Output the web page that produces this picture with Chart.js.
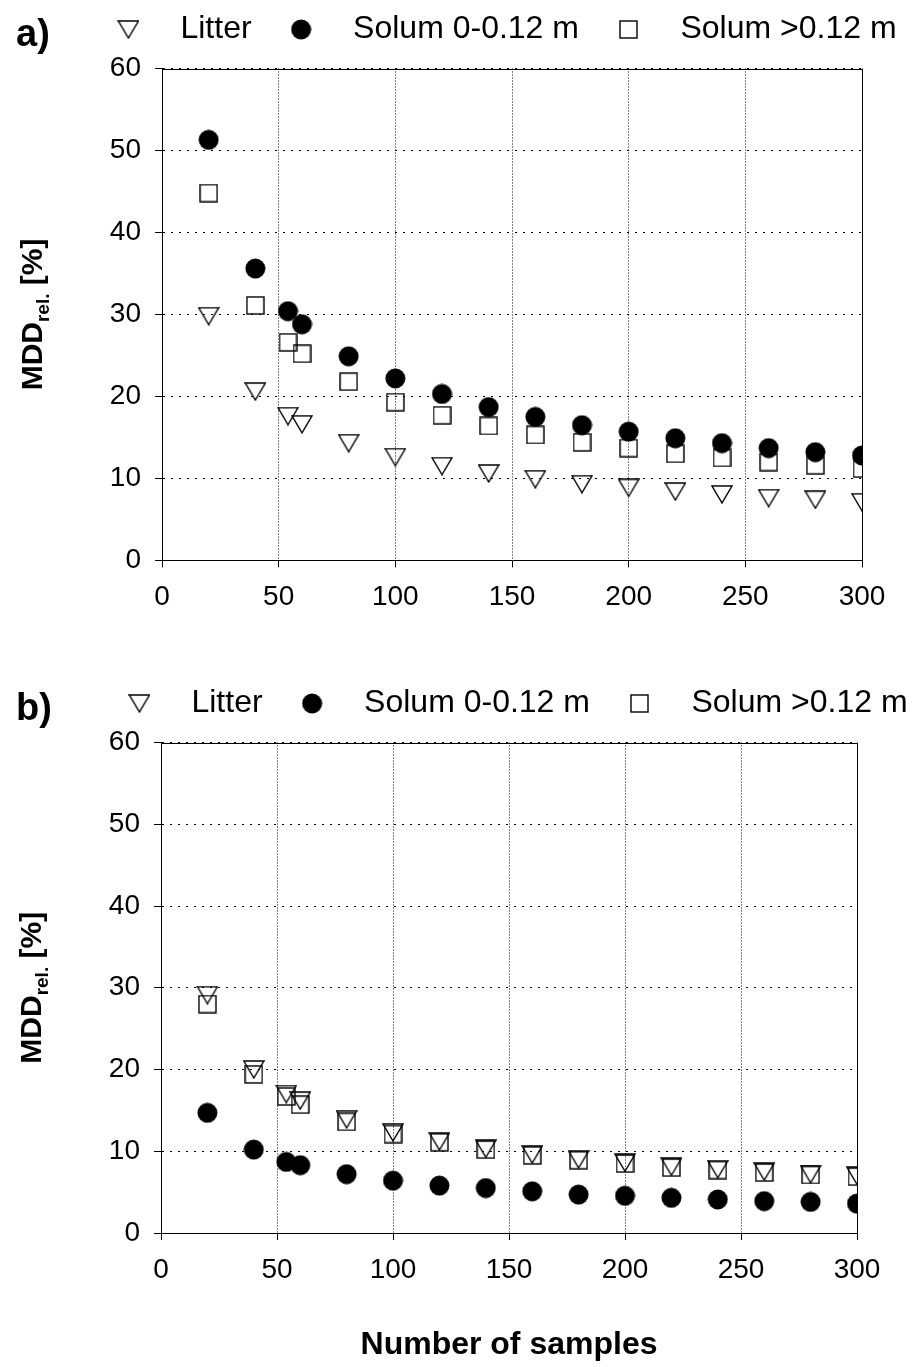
<!DOCTYPE html>
<html>
<head>
<meta charset="utf-8">
<script src="https://cdn.jsdelivr.net/npm/chart.js@4.4.0/dist/chart.umd.min.js"></script>
<style>
  html, body { margin: 0; padding: 0; background: #fff; }
  canvas { display: block; }
</style>
</head>
<body>
<canvas id="chartA" width="924" height="674"></canvas>
<canvas id="chartB" width="924" height="693"></canvas>
<script>
// number of samples (x) shared by both panels
const sampleCounts = [20, 40, 54, 60, 80, 100, 120, 140, 160, 180, 200, 220, 240, 260, 280, 300];
const seriesNames = ['Litter', 'Solum 0-0.12 m', 'Solum >0.12 m'];

// panel a)
const litterA = [29.8, 20.6, 17.6, 16.6, 14.3, 12.6, 11.5, 10.6, 9.9, 9.3, 8.85, 8.4, 8.05, 7.6, 7.4, 7.1];
const solumTopA = [51.3, 35.6, 30.4, 28.8, 24.9, 22.2, 20.3, 18.7, 17.5, 16.5, 15.7, 14.9, 14.3, 13.7, 13.2, 12.8];
const solumDeepA = [44.8, 31.1, 26.6, 25.2, 21.8, 19.3, 17.7, 16.4, 15.3, 14.4, 13.7, 13.0, 12.5, 12.0, 11.6, 11.2];

// panel b)
const litterB = [29.1, 20.0, 17.0, 16.2, 13.9, 12.3, 11.2, 10.3, 9.6, 9.0, 8.6, 8.1, 7.8, 7.5, 7.2, 7.0];
const solumTopB = [14.7, 10.2, 8.7, 8.3, 7.2, 6.4, 5.8, 5.5, 5.1, 4.7, 4.55, 4.3, 4.1, 3.9, 3.8, 3.6];
const solumDeepB = [28.0, 19.4, 16.7, 15.7, 13.6, 12.1, 11.1, 10.2, 9.5, 8.9, 8.5, 8.0, 7.7, 7.4, 7.1, 6.9];

const xTickValues = [0, 50, 100, 150, 200, 250, 300];
const yTickValues = [0, 10, 20, 30, 40, 50, 60];

Chart.defaults.font.family = '"Liberation Sans", Arial, sans-serif';
Chart.defaults.color = '#000';

// markers as small canvases so they sit centred on the value
const makeMarker = (type) => {
    const c = document.createElement('canvas');
    const g = c.getContext('2d');
    g.strokeStyle = '#000';
    g.lineWidth = 1.4;
    if (type === 'triangle') {
        c.width = 22; c.height = 19;
        g.strokeStyle = '#000'; g.lineWidth = 1.4;
        g.beginPath();
        g.moveTo(1, 1); g.lineTo(21, 1); g.lineTo(11, 18); g.closePath();
        g.stroke();
    } else if (type === 'circle') {
        c.width = 21; c.height = 21;
        g.fillStyle = '#000';
        g.beginPath(); g.arc(10.5, 10.5, 10, 0, Math.PI * 2); g.fill();
    } else {
        c.width = 19; c.height = 19;
        g.strokeStyle = '#000'; g.lineWidth = 1.4;
        g.strokeRect(1, 1, 17, 17);
    }
    return c;
};
const markers = [makeMarker('triangle'), makeMarker('circle'), makeMarker('square')];

const toPoints = (values) => values.map((v, i) => ({ x: sampleCounts[i], y: v }));

// frame, panel letter and the y title with subscript
const panelDecor = {
    id: 'panelDecor',
    beforeDatasetsDraw(chart) {
        const { ctx, chartArea: { left, top, right, bottom } } = chart;
        ctx.save();
        ctx.strokeStyle = '#000';
        ctx.lineWidth = 1;
        ctx.beginPath();
        ctx.moveTo(left, Math.round(top) + 0.5);
        ctx.lineTo(Math.round(right) + 0.5, Math.round(top) + 0.5);
        ctx.lineTo(Math.round(right) + 0.5, bottom);
        ctx.stroke();
        ctx.restore();
    },
    afterDraw(chart, args, opts) {
        const { ctx, chartArea } = chart;
        ctx.save();
        ctx.fillStyle = '#000';
        ctx.textBaseline = 'alphabetic';
        ctx.font = 'bold 38px "Liberation Sans", Arial, sans-serif';
        ctx.fillText(opts.label, 16, 46);

        const mainFont = 'bold 30px "Liberation Sans", Arial, sans-serif';
        const subFont = 'bold 19px "Liberation Sans", Arial, sans-serif';
        ctx.font = mainFont;
        const w1 = ctx.measureText('MDD').width;
        const w3 = ctx.measureText(' [%]').width;
        ctx.font = subFont;
        const w2 = ctx.measureText('rel.').width;
        const total = w1 + w2 + w3;
        ctx.translate(chartArea.left - 120, (chartArea.top + chartArea.bottom) / 2);
        ctx.rotate(-Math.PI / 2);
        let x = -total / 2;
        ctx.font = mainFont;
        ctx.fillText('MDD', x, 0);
        x += w1;
        ctx.font = subFont;
        ctx.fillText('rel.', x, 7);
        x += w2;
        ctx.font = mainFont;
        ctx.fillText(' [%]', x, 0);
        ctx.restore();
    }
};

const makeChart = (id, series, p) => {
    const ctx = document.getElementById(id).getContext('2d');
    return new Chart(ctx, {
        type: 'scatter',
        data: {
            datasets: series.map((values, i) => ({
                label: seriesNames[i],
                data: toPoints(values),
                pointStyle: markers[i],
                pointRadius: 10,
                borderColor: '#000',
                backgroundColor: '#000',
                showLine: false,
            })),
        },
        options: {
            responsive: false,
            devicePixelRatio: 1,
            animation: false,
            layout: { padding: { left: p.padLeft, top: 0, right: 0, bottom: p.padBottom } },
            scales: {
                x: {
                    type: 'linear',
                    min: 0,
                    max: 300,
                    afterBuildTicks: (s) => { s.ticks = xTickValues.map((v) => ({ value: v })); },
                    afterFit: (s) => { s.paddingRight = p.padRight; },
                    ticks: { font: { size: 28 }, padding: 13, maxRotation: 0, autoSkip: false, color: '#000' },
                    grid: { color: '#000', lineWidth: 1, tickLength: 7, tickColor: '#000', tickWidth: 1 },
                    border: { color: '#000', width: 1, dash: [1, 2] },
                    title: {
                        display: p.xTitle,
                        text: 'Number of samples',
                        font: { size: 32, weight: 'bold' },
                        color: '#000',
                        padding: { top: 26, bottom: 3 },
                    },
                },
                // empty top axis: only keeps a gap between legend and plot
                xGap: {
                    type: 'linear',
                    position: 'top',
                    min: 0,
                    max: 300,
                    ticks: { display: false },
                    grid: { display: false, drawTicks: false },
                    border: { display: false },
                    afterFit: (s) => { s.height = 13; },
                },
                y: {
                    min: 0,
                    max: 60,
                    afterBuildTicks: (s) => { s.ticks = yTickValues.map((v) => ({ value: v })); },
                    afterFit: (s) => { s.width = p.yWidth; },
                    ticks: { font: { size: 28, lineHeight: 1.1 }, padding: 14, color: '#000' },
                    grid: { color: '#000', lineWidth: 1, tickLength: 7, tickColor: '#000', tickWidth: 1 },
                    border: { color: '#000', width: 1, dash: [2, 6] },
                },
            },
            plugins: {
                legend: {
                    position: 'top',
                    align: 'center',
                    labels: {
                        usePointStyle: true,
                        pointStyleWidth: 72,
                        padding: 13.5,
                        font: { size: 32 },
                        color: '#000',
                    },
                },
                tooltip: { enabled: false },
                panelDecor: { label: p.label },
            },
        },
        plugins: [panelDecor],
    });
};

makeChart('chartA', [litterA, solumTopA, solumDeepA], {
    label: 'a)', padLeft: 65, yWidth: 97, padRight: 62, padBottom: 47, xTitle: false,
});
makeChart('chartB', [litterB, solumTopB, solumDeepB], {
    label: 'b)', padLeft: 87, yWidth: 74, padRight: 67, padBottom: 0, xTitle: true,
});
</script>
</body>
</html>
